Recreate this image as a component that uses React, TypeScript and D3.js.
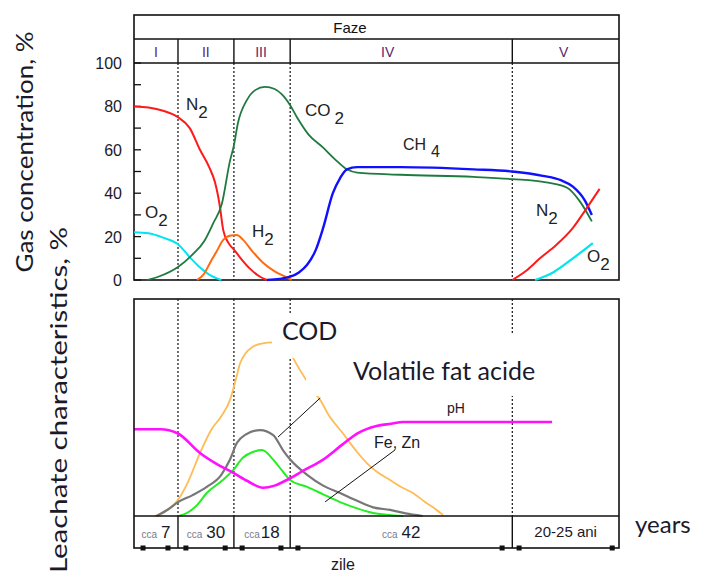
import React, { useEffect, useRef } from 'react';
import * as d3 from 'd3';

type Pt = [number, number];

// phase boundaries on a 0..100 time axis
const phaseBreaks = [9.07, 20.6, 32.2, 78];
const phaseNames = ['I', 'II', 'III', 'IV', 'V'];
const phaseLabelAt = [4.5, 14.8, 26.2, 52.3, 88.6];
const gasTicks = [0, 20, 40, 60, 80, 100];

// gas concentration, %
const n2Early: Pt[] = [[0, 80], [3, 79.5], [6, 78], [9.07, 75], [11.5, 70], [13.6, 60], [15.5, 52], [16.7, 45], [17.7, 34], [18.4, 23], [19.5, 17], [20.6, 14], [22, 10], [24, 5], [26, 1.5], [27.4, 0]];
const o2Early: Pt[] = [[0, 22], [3, 21.5], [6, 19.5], [9.07, 16.5], [11.5, 10.5], [13.5, 6], [15.5, 2.5], [18, 0]];
const co2: Pt[] = [[2.7, 0], [5, 1.5], [9.07, 6], [12.2, 12], [14.5, 18], [16.3, 26], [18.1, 35], [19.8, 55], [20.6, 62], [21.4, 72], [23.3, 83], [25, 87.5], [27, 89], [29, 88], [30.5, 85.5], [32.2, 80.5], [33.6, 75], [36, 67], [39, 61], [41.5, 55.5], [43.9, 51], [46, 49.5], [55, 48.5], [70, 47.5], [78, 46.5], [85, 45], [89.3, 42.5], [92, 36], [94.4, 27]];
const ch4: Pt[] = [[27.4, 0], [30, 0.5], [32.2, 1.5], [34, 3.5], [35.7, 7], [37.5, 14], [39, 24], [41, 40], [42.5, 47], [43.9, 51], [46, 52], [55, 52], [70, 51], [78, 50], [84.3, 48], [88, 46], [90.5, 43], [93, 36.5], [94.4, 30]];
const h2: Pt[] = [[13, 0], [14.5, 3], [15.7, 8], [17, 13], [18.4, 18.5], [20, 20.5], [21.2, 20.7], [22.5, 18.5], [24.5, 13], [26.6, 8], [29, 4], [31.5, 1.2], [32.5, 0]];
const n2Late: Pt[] = [[78, 0], [81, 4.5], [83.7, 10], [87, 16], [90.5, 24], [93, 32], [96, 42]];
const o2Late: Pt[] = [[82.7, 0], [86, 3], [89.3, 8], [92, 12.5], [94.6, 17]];

// leachate characteristics (relative)
const ph: Pt[] = [[0, 40], [5.4, 40], [9.07, 38], [13.6, 29], [17, 24], [20.4, 20], [23.5, 16], [26.6, 13], [29, 14], [31.5, 16.6], [35, 21], [39, 26], [43, 33], [46, 38], [50, 41.5], [53, 42.5], [55.5, 43.3], [86.2, 43.3]];
const vfa: Pt[] = [[4.7, 0], [7, 3], [9.07, 6.4], [12, 9.5], [15, 13.4], [18, 19], [19.8, 26], [21.2, 33.6], [23, 37.5], [26, 39.6], [28.7, 37.3], [30.7, 30.4], [32.2, 26], [35.7, 19], [39, 14], [42.5, 10.6], [46, 7], [49.3, 4], [52.8, 2.8], [56, 1.2], [59.5, 0]];
const feZn: Pt[] = [[9.3, 0], [11, 1.5], [13, 5], [15, 10.6], [18, 16], [20.4, 21], [22.5, 27], [24.5, 29.5], [26.4, 30.4], [28.7, 26], [30.5, 21], [32.2, 16.6], [35.7, 13.4], [39, 10], [42.5, 6.4], [46, 3.5], [49.3, 1.4], [52, 0.6], [55.5, 0]];
const cod: Pt[] = [[4.3, 0], [7, 3], [9.07, 7.4], [11, 15], [13.6, 29], [16, 40], [18, 46], [19.8, 53.5], [21, 63], [21.9, 70.5], [23, 75], [24.5, 78], [26.5, 79.6], [28.5, 80], [30.5, 78], [32.5, 74], [33.5, 70], [35.7, 62], [37, 57.5], [38.4, 53.5], [40, 47], [43.1, 38], [46, 29.5], [48, 24.4], [50, 20.5], [52.8, 16.6], [55, 13.5], [57.5, 10.6], [60, 6.5], [62, 3.5], [63.7, 0.5]];

// leader lines of the labels
const vfaLeader: Pt[] = [[29.7, 36.4], [38.4, 54.4]];
const feZnLeader: Pt[] = [[39.4, 6.5], [53.8, 30.4]];

// duration row under the lower panel
const periodNote = ['7', '30', '18', '42'];
const periodMarks = [1.86, 7.0, 10.7, 18.8, 22.3, 30.3, 33.8, 75.9, 79.4, 98.6];

const W = 704;
const H = 575;
const SANS = '"Liberation Sans", Arial, sans-serif';
const SOFT = 'Lato, "Open Sans", sans-serif';

const App = () => {
  const ref = useRef<SVGSVGElement | null>(null);

  useEffect(() => {
    const svg = d3.select(ref.current);
    svg.selectAll('*').remove();

    const left = 134, right = 619;
    const x = d3.scaleLinear().domain([0, 100]).range([left, right]);
    const yTop = d3.scaleLinear().domain([0, 100]).range([280, 63]);
    const yBot = d3.scaleLinear().domain([0, 100]).range([516, 299]);
    const headTop = 15, headMid = 39;
    const botTop = 299, botAxis = 516, botEnd = 548;

    const bounds = [0, ...phaseBreaks, 100];

    // ---------- top panel ----------
    const top = svg.append('g');
    top.append('rect')
      .attr('x', left).attr('y', headTop)
      .attr('width', right - left).attr('height', yTop(0) - headTop)
      .attr('fill', 'none').attr('stroke', '#111').attr('stroke-width', 1.6);
    top.append('line')
      .attr('x1', left).attr('x2', right).attr('y1', headMid).attr('y2', headMid)
      .attr('stroke', '#111').attr('stroke-width', 1.4);
    top.append('line')
      .attr('x1', left).attr('x2', right).attr('y1', yTop(100)).attr('y2', yTop(100))
      .attr('stroke', '#111').attr('stroke-width', 1.4);

    top.append('text')
      .attr('x', 350).attr('y', 33)
      .attr('text-anchor', 'middle')
      .style('font-family', SANS).style('font-size', '15px').style('fill', '#111')
      .text('Faze');

    phaseBreaks.forEach(b => {
      top.append('line')
        .attr('x1', x(b)).attr('x2', x(b)).attr('y1', headMid).attr('y2', yTop(100))
        .attr('stroke', '#111').attr('stroke-width', 1.4);
      top.append('line')
        .attr('x1', x(b)).attr('x2', x(b)).attr('y1', yTop(100)).attr('y2', yTop(0))
        .attr('stroke', '#111').attr('stroke-width', 1.2).attr('stroke-dasharray', '2,2');
    });

    phaseNames.forEach((n, i) => {
      top.append('text')
        .attr('x', x(phaseLabelAt[i])).attr('y', 57)
        .attr('text-anchor', 'middle')
        .style('font-family', SANS).style('font-size', '14px').style('fill', '#5a1f6e')
        .text(n);
    });

    // y axis with inward ticks every 10
    const yAxis = top.append('g').attr('transform', `translate(${left},0)`);
    d3.range(0, 101, 10).forEach(v => {
      yAxis.append('line')
        .attr('x1', 0).attr('x2', 7).attr('y1', yTop(v)).attr('y2', yTop(v))
        .attr('stroke', '#111').attr('stroke-width', 1.3);
    });
    gasTicks.forEach(v => {
      yAxis.append('text')
        .attr('x', -12).attr('y', yTop(v) + 6)
        .attr('text-anchor', 'end')
        .style('font-family', SANS).style('font-size', '16px').style('fill', '#1a1a2a')
        .text(v);
    });

    const lineTop = d3.line<Pt>().x(d => x(d[0])).y(d => yTop(d[1])).curve(d3.curveMonotoneX);
    const gasSeries: [Pt[], string, number][] = [
      [o2Early, '#00e5ee', 2],
      [n2Early, '#ff1a1a', 2],
      [h2, '#ff6a10', 2],
      [co2, '#1e7a3e', 1.8],
      [ch4, '#1010ff', 2.4],
      [n2Late, '#ff1a1a', 2],
      [o2Late, '#00e5ee', 2.2],
    ];
    gasSeries.forEach(([d, c, w]) => {
      top.append('path')
        .datum(d)
        .attr('d', lineTop)
        .attr('fill', 'none').attr('stroke', c).attr('stroke-width', w);
    });

    const subLabel = (g: any, px: number, py: number, main: string, sub: string, size: number, gap = 0) => {
      const t = g.append('text')
        .attr('x', px).attr('y', py)
        .style('font-family', SANS).style('font-size', `${size}px`).style('fill', '#222');
      t.append('tspan').text(main);
      t.append('tspan').attr('dx', gap).attr('dy', size * 0.45).text(sub);
    };
    subLabel(top, 186, 110, 'N', '2', 17);
    subLabel(top, 305, 116, 'CO', '2', 17, 4);
    subLabel(top, 145, 218, 'O', '2', 17);
    subLabel(top, 252, 237, 'H', '2', 17);
    subLabel(top, 403, 150, 'CH', '4', 16, 5);
    subLabel(top, 536, 216, 'N', '2', 17);
    subLabel(top, 587, 262, 'O', '2', 17);

    // ---------- bottom panel ----------
    const bot = svg.append('g');
    phaseBreaks.forEach(b => {
      bot.append('line')
        .attr('x1', x(b)).attr('x2', x(b)).attr('y1', botTop).attr('y2', botAxis)
        .attr('stroke', '#111').attr('stroke-width', 1.2).attr('stroke-dasharray', '2,2');
    });

    const lineBot = d3.line<Pt>().x(d => x(d[0])).y(d => yBot(d[1])).curve(d3.curveMonotoneX);
    const leachSeries: [Pt[], string, number][] = [
      [cod, '#ffbb55', 1.8],
      [vfa, '#777777', 2.2],
      [feZn, '#22ee22', 2],
      [ph, '#ff10ff', 2.6],
    ];
    leachSeries.forEach(([d, c, w]) => {
      bot.append('path')
        .datum(d)
        .attr('d', lineBot)
        .attr('fill', 'none').attr('stroke', c).attr('stroke-width', w);
    });

    [vfaLeader, feZnLeader].forEach(d => {
      bot.append('path')
        .datum(d)
        .attr('d', d3.line<Pt>().x(p => x(p[0])).y(p => yBot(p[1])))
        .attr('fill', 'none').attr('stroke', '#111').attr('stroke-width', 1);
    });

    // white text boxes that hide what runs under the labels
    bot.append('rect')
      .attr('x', 272).attr('y', 313).attr('width', 80).attr('height', 45)
      .attr('fill', '#fff');
    bot.append('rect')
      .attr('x', 306).attr('y', 335).attr('width', 272).attr('height', 61)
      .attr('fill', '#fff');

    bot.append('text')
      .attr('x', 282).attr('y', 340)
      .style('font-family', SOFT).style('font-size', '25px').style('fill', '#1a1a2a')
      .text('COD');
    bot.append('text')
      .attr('x', 353).attr('y', 380)
      .style('font-family', SOFT).style('font-size', '25px').style('fill', '#1a1a2a')
      .text('Volatile fat acide');
    bot.append('text')
      .attr('x', 447).attr('y', 413)
      .style('font-family', SANS).style('font-size', '14px').style('fill', '#1a1a2a')
      .text('pH');
    bot.append('text')
      .attr('x', 374).attr('y', 448)
      .style('font-family', SANS).style('font-size', '16px').style('fill', '#1a1a2a')
      .text('Fe, Zn');

    // frame of the lower panel
    bot.append('rect')
      .attr('x', left).attr('y', botTop)
      .attr('width', right - left).attr('height', botEnd - botTop)
      .attr('fill', 'none').attr('stroke', '#111').attr('stroke-width', 1.6);
    bot.append('line')
      .attr('x1', left).attr('x2', right).attr('y1', botAxis).attr('y2', botAxis)
      .attr('stroke', '#111').attr('stroke-width', 1.4);
    phaseBreaks.forEach(b => {
      bot.append('line')
        .attr('x1', x(b)).attr('x2', x(b)).attr('y1', botAxis).attr('y2', botEnd)
        .attr('stroke', '#111').attr('stroke-width', 1.4);
    });

    periodNote.forEach((n, i) => {
      const cx = (x(bounds[i]) + x(bounds[i + 1])) / 2;
      const t = bot.append('text')
        .attr('x', cx).attr('y', 538)
        .attr('text-anchor', 'middle');
      t.append('tspan')
        .style('font-family', SANS).style('font-size', '10px').style('fill', '#7a7a8c')
        .text('cca');
      t.append('tspan')
        .attr('dx', i === 2 ? 1 : 4)
        .style('font-family', SANS).style('font-size', '17px').style('fill', '#1a1a2a')
        .text(n);
    });
    bot.append('text')
      .attr('x', (x(bounds[4]) + x(bounds[5])) / 2).attr('y', 537)
      .attr('text-anchor', 'middle')
      .style('font-family', SANS).style('font-size', '15px').style('fill', '#1a1a2a')
      .text('20-25 ani');

    periodMarks.forEach(m => {
      bot.append('rect')
        .attr('x', x(m) - 2.5).attr('y', botEnd - 2.5)
        .attr('width', 5).attr('height', 5)
        .attr('fill', '#111');
    });

    bot.append('text')
      .attr('x', 343).attr('y', 570)
      .attr('text-anchor', 'middle')
      .style('font-family', SANS).style('font-size', '16px').style('fill', '#1a1a2a')
      .text('zile');
    bot.append('text')
      .attr('x', 635).attr('y', 533)
      .style('font-family', SOFT).style('font-size', '24px').style('fill', '#1a1a2a')
      .text('years');

    // axis titles (stretched text boxes in the original)
    svg.append('text')
      .attr('transform', 'translate(33,152) rotate(-90)')
      .attr('text-anchor', 'middle')
      .attr('textLength', 241).attr('lengthAdjust', 'spacingAndGlyphs')
      .style('font-family', SOFT).style('font-size', '24px').style('fill', '#1a1a2a')
      .text('Gas concentration, %');
    svg.append('text')
      .attr('transform', 'translate(67,400) rotate(-90)')
      .attr('text-anchor', 'middle')
      .attr('textLength', 346).attr('lengthAdjust', 'spacingAndGlyphs')
      .style('font-family', SOFT).style('font-size', '24px').style('fill', '#1a1a2a')
      .text('Leachate characteristics, %');
  }, []);

  return (
    <div style={{ position: 'absolute', left: 0, top: 0 }}>
      <svg ref={ref} width={W} height={H} style={{ display: 'block', background: '#fff' }} />
    </div>
  );
};

export default App;
